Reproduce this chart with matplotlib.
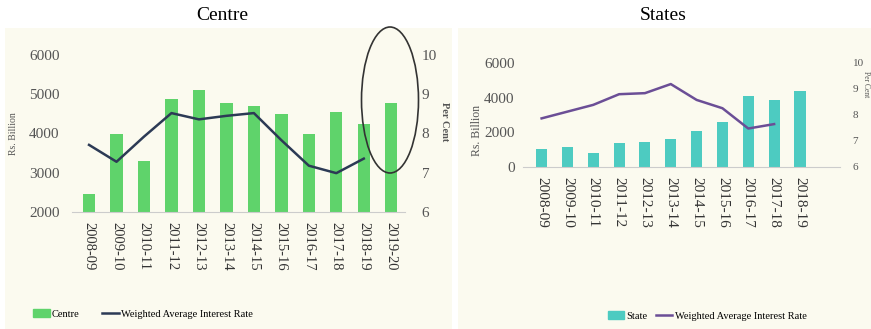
# Centre and States borrowings with weighted average interest rate
import matplotlib.pyplot as plt
from matplotlib.patches import Ellipse, Rectangle, Patch
from matplotlib.lines import Line2D
import numpy as np

plt.rcParams['font.family'] = 'Liberation Serif'

# data
centre_years = ['2008-09', '2009-10', '2010-11', '2011-12', '2012-13', '2013-14',
                '2014-15', '2015-16', '2016-17', '2017-18', '2018-19', '2019-20']
centre_amt = [2470, 3980, 3300, 4870, 5110, 4780, 4700, 4490, 3980, 4550, 4240, 4770]
centre_rate = [7.71, 7.28, 7.92, 8.52, 8.36, 8.45, 8.52, 7.83, 7.18, 6.99, 7.36]

state_years = ['2008-09', '2009-10', '2010-11', '2011-12', '2012-13', '2013-14',
               '2014-15', '2015-16', '2016-17', '2017-18', '2018-19']
state_amt = [1030, 1160, 810, 1360, 1430, 1630, 2070, 2610, 4070, 3870, 4410]
state_rate = [7.87, 8.13, 8.39, 8.80, 8.84, 9.19, 8.58, 8.26, 7.48, 7.65]

cream = '#fbfaef'
tick_col = '#555555'

fig = plt.figure(figsize=(8.71, 3.29), dpi=100)
W, H = 871.0, 329.0

def fx(px):
    return px / W

def fy(py):
    return 1 - py / H

# panel backgrounds
fig.patches.append(Rectangle((fx(5), 0), fx(447), fy(28), transform=fig.transFigure,
                             facecolor=cream, edgecolor='none', zorder=-1))
fig.patches.append(Rectangle((fx(458), 0), fx(413), fy(28), transform=fig.transFigure,
                             facecolor=cream, edgecolor='none', zorder=-1))

fig.text(fx(222), fy(15), 'Centre', ha='center', va='center', fontsize=14)
fig.text(fx(663), fy(15), 'States', ha='center', va='center', fontsize=14)

# ---- Centre ----
ax1 = fig.add_axes([fx(72), fy(212), fx(405 - 72), (212 - 55) / H])
ax1.set_facecolor('none')
x1 = np.arange(len(centre_years))
ax1.bar(x1, centre_amt, width=0.45, color='#5fd36b', zorder=2)
ax1.set_ylim(2000, 6000)
ax1.set_xlim(-0.62, 11.5)
ax1.set_yticks([2000, 3000, 4000, 5000, 6000])
ax1.set_xticks(x1)
ax1.set_xticklabels(centre_years, rotation=-90)
ax1.tick_params(axis='y', length=0, pad=9, labelsize=11, labelcolor=tick_col)
ax1.tick_params(axis='x', length=0, pad=7, labelsize=10.5, labelcolor='#333333')
for s in ['top', 'right', 'left']:
    ax1.spines[s].set_visible(False)
ax1.spines['bottom'].set_color('#cccccc')
ax1.set_ylabel('Rs. Billion', fontsize=7, color=tick_col, labelpad=8)

ax1r = ax1.twinx()
ax1r.plot(x1[:len(centre_rate)], centre_rate, color='#2c3a55', lw=1.8, zorder=3)
ax1r.set_ylim(6, 10)
ax1r.set_yticks([6, 7, 8, 9, 10])
ax1r.tick_params(axis='y', length=0, pad=12, labelsize=11, labelcolor=tick_col)
for s in ['top', 'right', 'left', 'bottom']:
    ax1r.spines[s].set_visible(False)
fig.text(fx(444), fy(122), 'Per Cent', fontsize=7.5, color=tick_col, rotation=-90,
         ha='center', va='center', fontweight='bold')

fig.patches.append(Ellipse((fx(390), fy(100)), fx(57), 146 / H, transform=fig.transFigure,
                           facecolor='none', edgecolor='#333333', lw=1.2, zorder=5))

fig.legend(handles=[Patch(color='#5fd36b', label='Centre'),
                    Line2D([], [], color='#2c3a55', lw=1.8,
                           label='Weighted Average Interest Rate')],
           loc='center', bbox_to_anchor=(fx(143), fy(314)), ncol=2, frameon=False,
           fontsize=7.5, handlelength=1.6, handletextpad=0.2, columnspacing=2.2)

# ---- States ----
ax2 = fig.add_axes([fx(523), fy(167), fx(840 - 523), (167 - 63) / H])
ax2.set_facecolor('none')
x2 = np.arange(len(state_years))
ax2.bar(x2, state_amt, width=0.43, color='#4dcbc1', zorder=2)
ax2.set_ylim(0, 6000)
ax2.set_xlim(-0.72, 11.55)
ax2.set_yticks([0, 2000, 4000, 6000])
ax2.set_xticks(x2)
ax2.set_xticklabels(state_years, rotation=-90)
ax2.tick_params(axis='y', length=0, pad=6, labelsize=11, labelcolor=tick_col)
ax2.tick_params(axis='x', length=0, pad=7, labelsize=11, labelcolor='#333333')
for s in ['top', 'right', 'left']:
    ax2.spines[s].set_visible(False)
ax2.spines['bottom'].set_color('#cccccc')
fig.text(fx(477), fy(130), 'Rs. Billion', fontsize=8.5, color=tick_col, rotation=90,
         ha='center', va='center')

ax2r = ax2.twinx()
ax2r.plot(x2[:len(state_rate)], state_rate, color='#6b4e96', lw=1.8, zorder=3)
ax2r.set_ylim(6, 10)
ax2r.set_yticks([6, 7, 8, 9, 10])
ax2r.tick_params(axis='y', length=0, pad=9, labelsize=8, labelcolor=tick_col)
for s in ['top', 'right', 'left', 'bottom']:
    ax2r.spines[s].set_visible(False)
fig.text(fx(866), fy(84), 'Per Cent', fontsize=5.5, color=tick_col, rotation=-90,
         ha='center', va='center')

fig.legend(handles=[Patch(color='#4dcbc1', label='State'),
                    Line2D([], [], color='#6b4e96', lw=1.8,
                           label='Weighted Average Interest Rate')],
           loc='center', bbox_to_anchor=(fx(707), fy(316)), ncol=2, frameon=False,
           fontsize=7.5, handlelength=1.6, handletextpad=0.2, columnspacing=0.8)

plt.savefig('out.png', dpi=100)
